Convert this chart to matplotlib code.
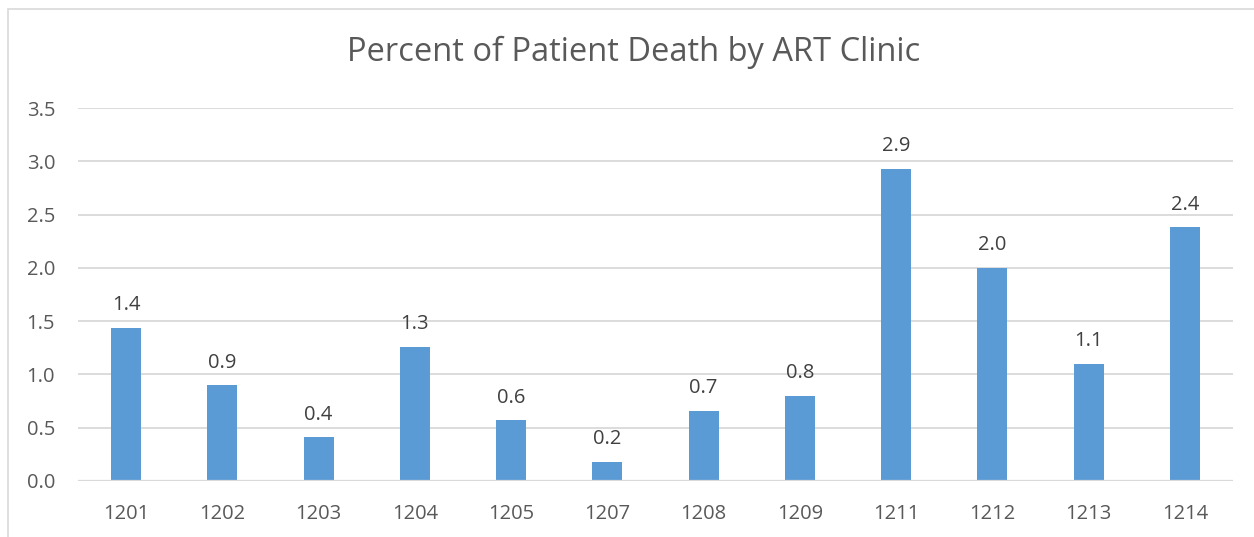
import matplotlib
matplotlib.use("Agg")
import matplotlib.pyplot as plt
from matplotlib.patches import Rectangle

clinics = ["1201", "1202", "1203", "1204", "1205", "1207", "1208", "1209", "1211", "1212", "1213", "1214"]
percent_death = [1.44, 0.90, 0.41, 1.26, 0.57, 0.18, 0.66, 0.80, 2.93, 2.00, 1.10, 2.38]
yticks = [0.0, 0.5, 1.0, 1.5, 2.0, 2.5, 3.0, 3.5]

plt.rcParams['font.family'] = ['Open Sans', 'DejaVu Sans']
W, H = 1254, 537
fig = plt.figure(figsize=(W / 100, H / 100), dpi=100)
ax = fig.add_axes([78 / W, 1 - 481 / H, (1233 - 78) / W, (481 - 108) / H])

text_c = "#595959"
grid_c = "#D9D9D9"
bar_c = "#5B9BD5"

x = list(range(len(clinics)))
ax.bar(x, percent_death, width=0.31, color=bar_c, zorder=3)
ax.set_xlim(-0.5, len(clinics) - 0.5)
ax.set_ylim(0, 3.5)
ax.set_yticks(yticks)
ax.set_yticklabels([f"{v:.1f}" for v in yticks], color=text_c, fontsize=14.5)
ax.set_xticks(x)
ax.set_xticklabels(clinics, color=text_c, fontsize=14.5)
ax.tick_params(axis='both', length=0)
ax.tick_params(axis='x', pad=16.5)
ax.tick_params(axis='y', pad=16.5)
ax.grid(axis='y', color=grid_c, linewidth=1.3, zorder=0)
for s in ax.spines.values():
    s.set_visible(False)
ax.axhline(0, color=grid_c, linewidth=1.6, zorder=4)

for xi, v in zip(x, percent_death):
    ax.annotate(f"{v:.1f}", (xi, v), xytext=(0, 9), textcoords="offset points",
                ha="center", va="bottom", color="#404040", fontsize=14.5)

fig.text(634 / W, 1 - 52 / H, "Percent of Patient Death by ART Clinic",
         ha="center", va="center", color=text_c, fontsize=23.5)

fig.patches.append(Rectangle((8 / W, -0.1), 1.2, 1 - 9 / H + 0.1, transform=fig.transFigure,
                             fill=False, edgecolor=grid_c, linewidth=1.2))

fig.savefig("out.png", dpi=100)
